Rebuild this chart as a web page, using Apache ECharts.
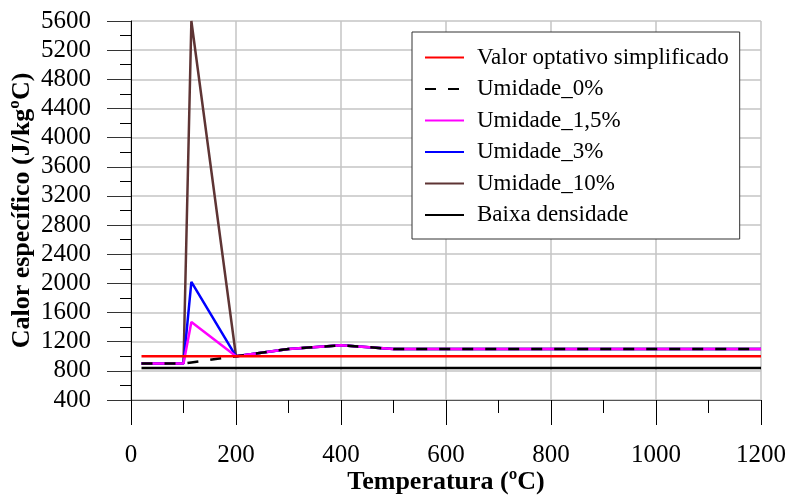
<!DOCTYPE html>
<html>
<head>
<meta charset="utf-8">
<script src="https://cdn.jsdelivr.net/npm/echarts@6/dist/echarts.min.js"></script>
<style>
  html, body { margin: 0; padding: 0; background: #fff; }
  #chart { width: 790px; height: 496px; }
</style>
</head>
<body>
<div id="chart"></div>
<script>
// data
const temps = [20, 100, 115, 200, 300, 400, 500, 1200]
const simplificado = [1000, 1000, 1000, 1000, 1000, 1000, 1000, 1000]
const umidade0 = [900, 900, 915, 1000, 1100, 1150, 1100, 1100]
const umidade15 = [900, 900, 1470, 1000, 1100, 1150, 1100, 1100]
const umidade3 = [900, 900, 2020, 1000, 1100, 1150, 1100, 1100]
const umidade10 = [900, 900, 5600, 1000, 1100, 1150, 1100, 1100]
const baixaDensidade = [840, 840, 840, 840, 840, 840, 840, 840]
const xTicks = [0, 200, 400, 600, 800, 1000, 1200]
const yTicks = [400, 800, 1200, 1600, 2000, 2400, 2800, 3200, 3600, 4000, 4400, 4800, 5200, 5600]

const font = 'Liberation Serif'

function pairs(values) {
  return temps.map((t, i) => [t, values[i]])
}

function lineSeries(name, values, color, type, z) {
  return {
    name: name,
    type: 'line',
    data: pairs(values),
    symbol: 'none',
    z: z,
    lineStyle: { color: color, width: 2.5, type: type || 'solid' },
    itemStyle: { color: color },
    animation: false
  }
}

function renderChart() {
  const chart = echarts.init(document.getElementById('chart'))
  const option = {
    backgroundColor: '#fff',
    animation: false,
    grid: { left: 131, right: 29, top: 21, bottom: 96, outerBoundsMode: 'none', containLabel: false },
    legend: {
      orient: 'vertical',
      left: 412,
      top: 32,
      backgroundColor: '#fff',
      borderColor: '#333',
      borderWidth: 1,
      padding: [13.5, 11, 12, 12],
      itemWidth: 39,
      itemHeight: 14,
      itemGap: 7.5,
      itemStyle: { opacity: 0 },
      textStyle: { fontFamily: font, fontSize: 23, color: '#000', lineHeight: 24, padding: [0, 0, 0, 8] },
      data: ['Valor optativo simplificado', 'Umidade_0%', 'Umidade_1,5%', 'Umidade_3%', 'Umidade_10%', 'Baixa densidade']
    },
    xAxis: {
      type: 'value',
      min: xTicks[0],
      max: xTicks[xTicks.length - 1],
      interval: xTicks[1] - xTicks[0],
      name: 'Temperatura (ºC)',
      nameLocation: 'middle',
      nameGap: 69,
      nameMoveOverlap: false,
      nameTextStyle: { fontFamily: font, fontSize: 26, fontWeight: 'bold', color: '#000' },
      axisLine: { show: true, onZero: false, lineStyle: { color: '#555', width: 1 } },
      axisTick: { show: true, inside: false, length: 25, lineStyle: { color: '#000' } },
      minorTick: { show: true, splitNumber: 2, length: 13, lineStyle: { color: '#000' } },
      axisLabel: { fontFamily: font, fontSize: 25, color: '#000', margin: 43, formatter: v => String(v) },
      splitLine: { show: true, lineStyle: { color: '#c4c4c4', width: 1.5 } }
    },
    yAxis: {
      type: 'value',
      min: yTicks[0],
      max: yTicks[yTicks.length - 1],
      interval: yTicks[1] - yTicks[0],
      name: 'Calor específico (J/kgºC)',
      nameLocation: 'middle',
      nameGap: 96,
      nameMoveOverlap: false,
      nameTextStyle: { fontFamily: font, fontSize: 26, fontWeight: 'bold', color: '#000' },
      axisLine: { show: true, onZero: false, lineStyle: { color: '#000', width: 1 } },
      axisTick: { show: true, inside: false, length: 24, lineStyle: { color: '#333' } },
      minorTick: { show: true, splitNumber: 2, length: 11, lineStyle: { color: '#000' } },
      axisLabel: { fontFamily: font, fontSize: 25, color: '#000', margin: 40, formatter: v => String(v) },
      splitLine: { show: true, lineStyle: { color: '#c4c4c4', width: 1.5 } }
    },
    series: [
      lineSeries('Umidade_10%', umidade10, '#5e3434', 'solid', 2),
      lineSeries('Umidade_3%', umidade3, '#0000ff', 'solid', 3),
      lineSeries('Umidade_1,5%', umidade15, '#ff00ff', 'solid', 4),
      lineSeries('Umidade_0%', umidade0, '#000', [11, 12], 5),
      lineSeries('Valor optativo simplificado', simplificado, '#ff0000', 'solid', 6),
      lineSeries('Baixa densidade', baixaDensidade, '#000', 'solid', 6)
    ]
  }
  chart.setOption(option)
}

document.addEventListener('DOMContentLoaded', renderChart)
</script>
</body>
</html>
